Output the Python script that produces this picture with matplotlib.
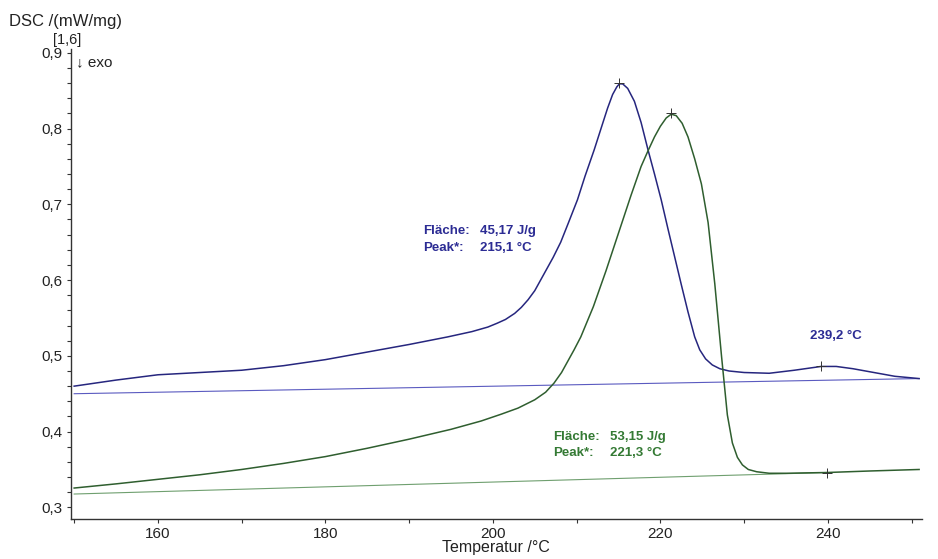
import matplotlib

matplotlib.use("Agg")
import matplotlib.pyplot as plt
from matplotlib.ticker import FuncFormatter, MultipleLocator

plt.rcParams["font.family"] = ["Liberation Sans", "DejaVu Sans"]

# blue run (DSC curve + baseline)
blue_temp = [150, 155, 160, 165, 170, 175, 180, 185, 190, 194.6, 197.5, 199.4,
             200.5, 201.5, 202.6, 203.4, 204.2, 205.0, 205.7, 206.4, 207.2, 208.1,
             209, 210.1, 211, 212.1, 213, 213.7, 214.3, 214.8, 215.1, 215.5,
             216.1, 216.9, 217.7, 218.5, 219.3, 220.1, 220.9, 221.7, 222.5, 223.3,
             224.1, 224.7, 225.4, 226.2, 227.1, 228.2, 230, 233, 236, 239.2,
             241, 243, 245, 248, 250.9]
blue_dsc = [0.460, 0.468, 0.475, 0.478, 0.481, 0.487, 0.495, 0.505, 0.515, 0.525, 0.532, 0.538,
            0.543, 0.548, 0.556, 0.564, 0.574, 0.586, 0.600, 0.614, 0.630, 0.650,
            0.675, 0.706, 0.737, 0.772, 0.803, 0.827, 0.845, 0.855, 0.859, 0.859,
            0.853, 0.836, 0.808, 0.773, 0.740, 0.706, 0.668, 0.631, 0.594, 0.558,
            0.525, 0.508, 0.496, 0.488, 0.483, 0.480, 0.478, 0.477, 0.481, 0.486,
            0.486, 0.483, 0.479, 0.473, 0.470]
blue_base_temp = [150, 250.9]
blue_base_dsc = [0.450, 0.470]

# green run
green_temp = [150, 155, 160, 165, 170, 175, 180, 185, 190, 195, 198.6, 201,
              203, 205, 206.3, 207.3, 208.2, 208.9, 209.7, 210.5, 212.0, 213.5,
              215.3, 216.5, 217.7, 218.5, 219.3, 220.0, 220.7, 221.3, 221.9, 222.6,
              223.3, 224.1, 224.9, 225.7, 226.5, 227.3, 228.0, 228.6, 229.2, 229.8,
              230.5, 231.5, 233, 235, 239.9, 245, 250.9]
green_dsc = [0.3255, 0.331, 0.337, 0.343, 0.350, 0.358, 0.367, 0.378, 0.390, 0.403, 0.414, 0.423,
             0.431, 0.442, 0.452, 0.464, 0.478, 0.492, 0.508, 0.525, 0.565, 0.612,
             0.672, 0.712, 0.750, 0.770, 0.789, 0.803, 0.814, 0.819, 0.817, 0.807,
             0.789, 0.760, 0.727, 0.676, 0.595, 0.500, 0.422, 0.385, 0.366, 0.356,
             0.350, 0.347, 0.345, 0.345, 0.346, 0.348, 0.350]
green_base_temp = [150, 239.9]
green_base_dsc = [0.3176, 0.346]

blue_marks_temp = [215.1, 239.2]
blue_marks_dsc = [0.860, 0.486]
green_marks_temp = [221.3, 239.9]
green_marks_dsc = [0.820, 0.346]

BLUE = "#26267e"
BLUE_LIGHT = "#5a5ac0"
BLUE_TEXT = "#2c2c94"
GREEN = "#2f5e2f"
GREEN_LIGHT = "#6f9f6f"
GREEN_TEXT = "#347a34"


def comma(fmt):
    return FuncFormatter(lambda v, pos: format(v, fmt).replace(".", ","))


fig = plt.figure(figsize=(9.38, 5.59), dpi=100)
ax = fig.add_axes([0.0755, 0.0707, 0.9075, 0.8416])

ax.plot(blue_base_temp, blue_base_dsc, color=BLUE_LIGHT, lw=0.8)
ax.plot(green_base_temp, green_base_dsc, color=GREEN_LIGHT, lw=0.8)
ax.plot(blue_temp, blue_dsc, color=BLUE, lw=1.1)
ax.plot(green_temp, green_dsc, color=GREEN, lw=1.1)
ax.plot(blue_marks_temp, blue_marks_dsc, "+", color="#333333", ms=7, mew=0.7)
ax.plot(green_marks_temp, green_marks_dsc, "+", color="#333333", ms=7, mew=0.7)

ax.set_xlim(149.6, 251.25)
ax.set_ylim(0.284, 0.905)
ax.xaxis.set_major_locator(MultipleLocator(20))
ax.xaxis.set_minor_locator(MultipleLocator(10))
ax.yaxis.set_major_locator(MultipleLocator(0.1))
ax.yaxis.set_minor_locator(MultipleLocator(0.02))
ax.xaxis.set_major_formatter(comma(".0f"))
ax.yaxis.set_major_formatter(comma(".1f"))
ax.tick_params(which="both", direction="out", length=3, width=0.8, colors="#333333",
               labelsize=11, labelcolor="#222222")
ax.tick_params(axis="x", pad=2.5)
ax.tick_params(axis="y", pad=3)
for side in ("top", "right"):
    ax.spines[side].set_visible(False)
for side in ("left", "bottom"):
    ax.spines[side].set_color("#333333")
    ax.spines[side].set_linewidth(1.0)

ax.set_xlabel("Temperatur /°C", fontsize=11.5, color="#222222", labelpad=-1)

# peak annotations
ann = dict(fontsize=9.5, fontweight="bold", va="center")
ax.text(191.7, 0.6647, "Fläche:", color=BLUE_TEXT, **ann)
ax.text(198.5, 0.6647, "45,17 J/g", color=BLUE_TEXT, **ann)
ax.text(191.7, 0.6426, "Peak*:", color=BLUE_TEXT, **ann)
ax.text(198.5, 0.6426, "215,1 °C", color=BLUE_TEXT, **ann)
ax.text(241.0, 0.526, "239,2 °C", color=BLUE_TEXT, ha="center", **ann)
ax.text(207.2, 0.3928, "Fläche:", color=GREEN_TEXT, **ann)
ax.text(214.0, 0.3928, "53,15 J/g", color=GREEN_TEXT, **ann)
ax.text(207.2, 0.3713, "Peak*:", color=GREEN_TEXT, **ann)
ax.text(214.0, 0.3713, "221,3 °C", color=GREEN_TEXT, **ann)

fig.text(9 / 938, 1 - 21.7 / 559, "DSC /(mW/mg)", fontsize=12, color="#222222", va="center")
fig.text(67.5 / 938, 1 - 40 / 559, "[1,6]", fontsize=10.5, color="#222222", va="center", ha="center")
fig.text(76 / 938, 1 - 61.7 / 559, "↓ exo", fontsize=11, color="#222222", va="center")

fig.savefig("out.png", dpi=100)
